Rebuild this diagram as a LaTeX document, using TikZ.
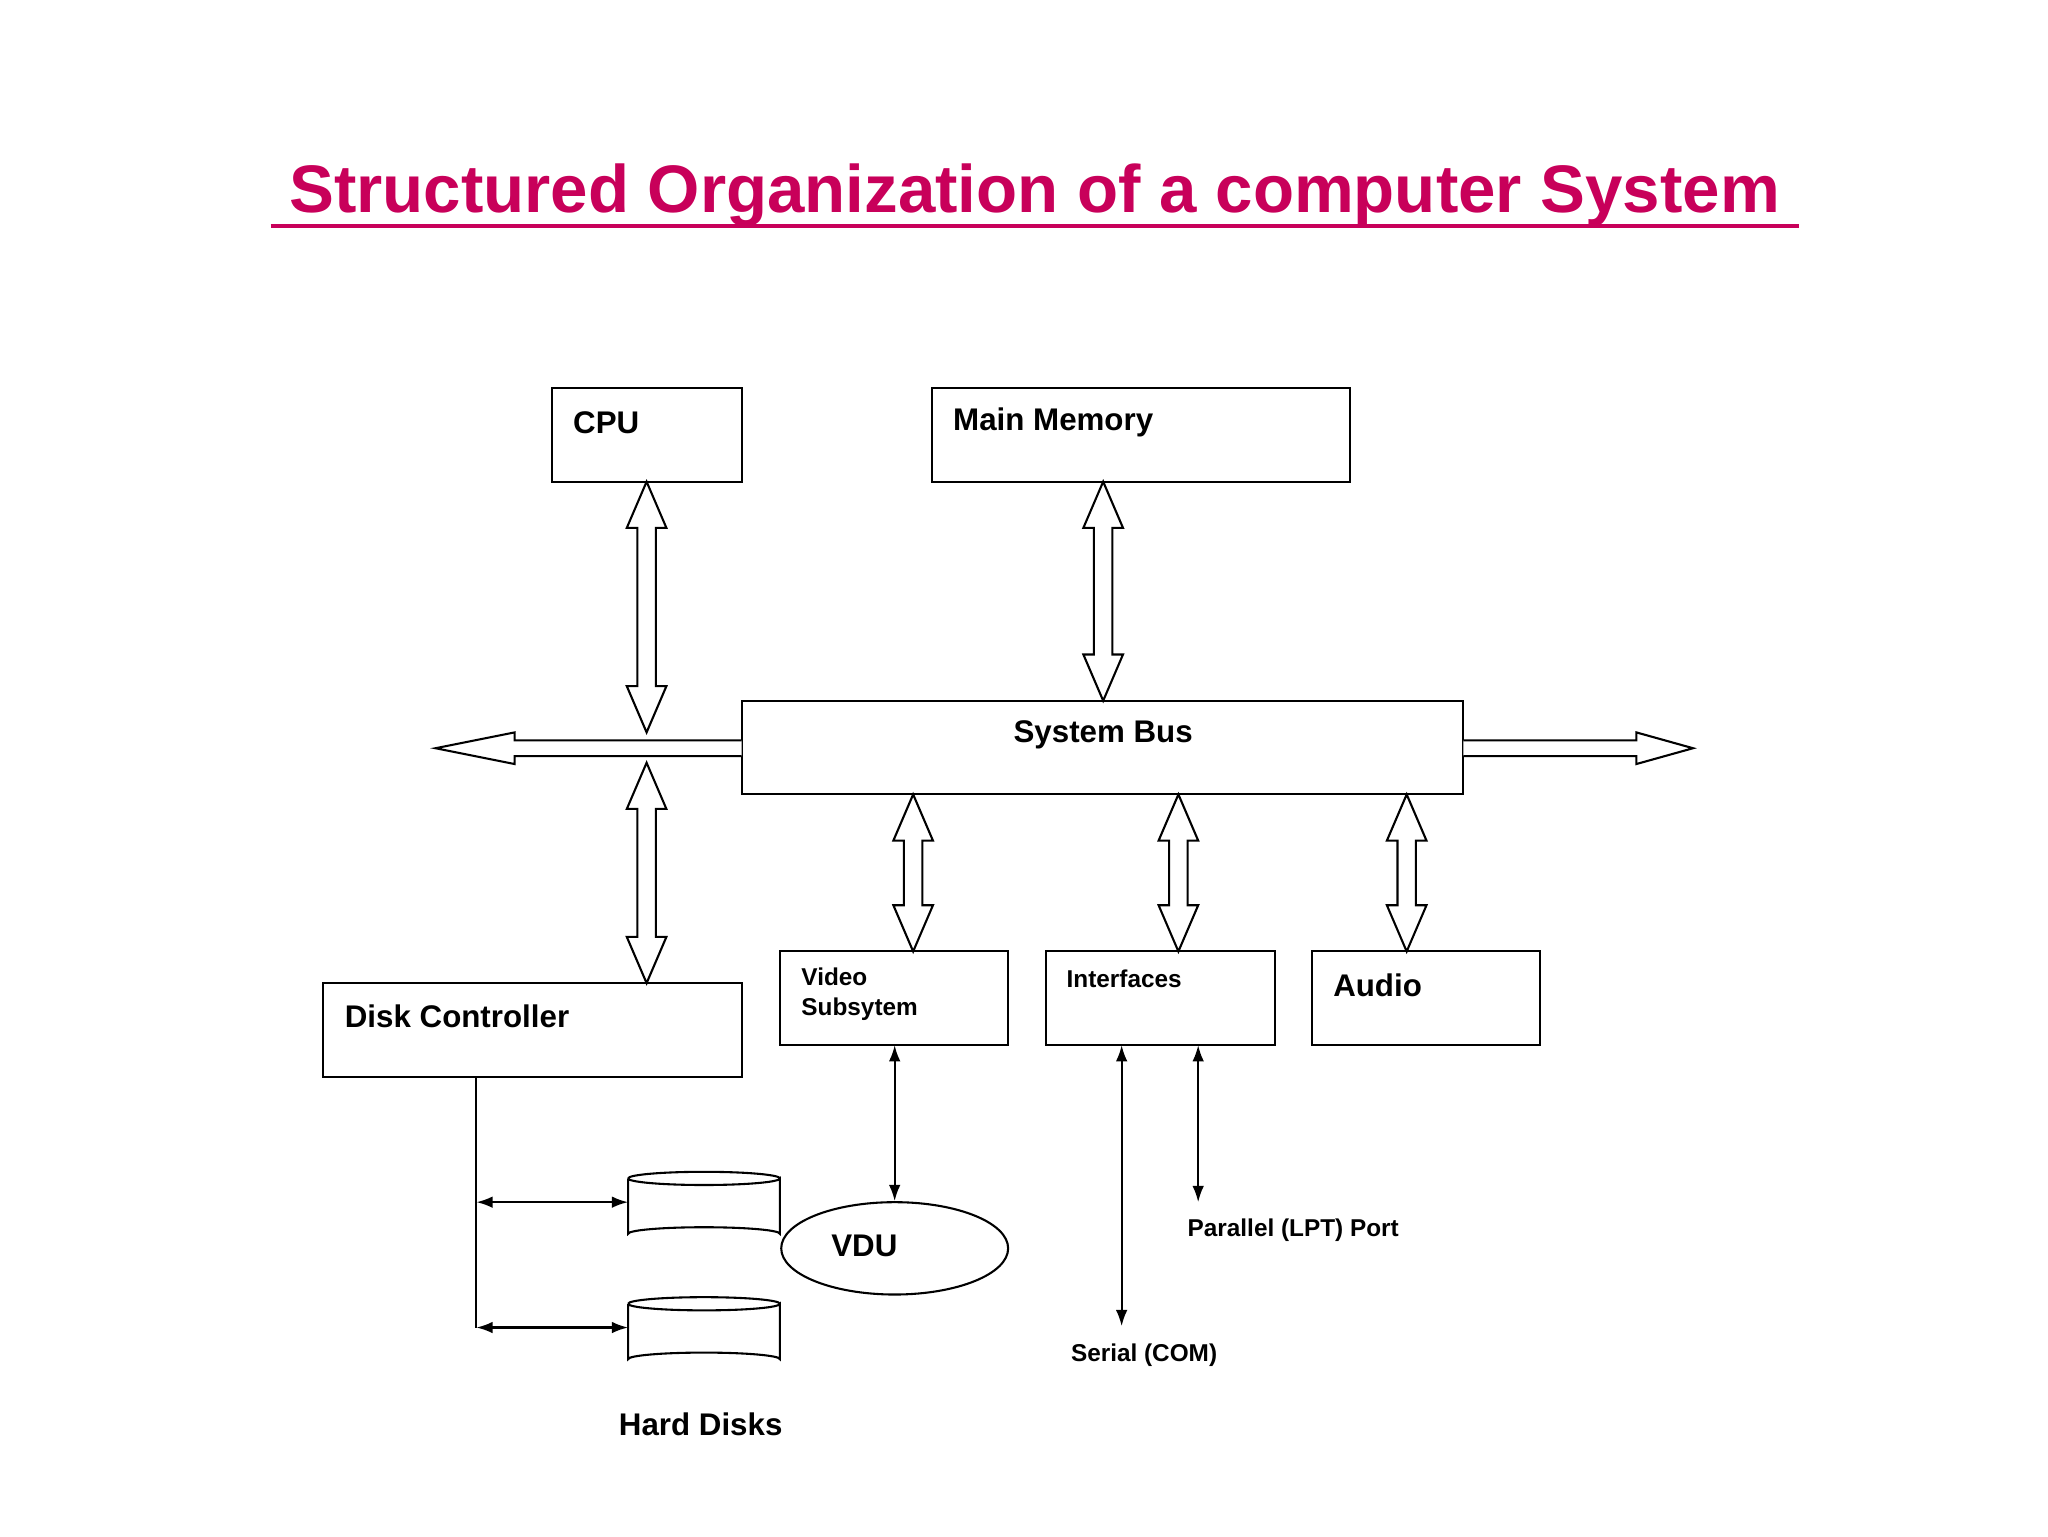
\documentclass[tikz,border=0pt]{standalone}
\usepackage{fontspec}
\setmainfont{Liberation Sans}
\usetikzlibrary{shapes.geometric}
\definecolor{ttl}{HTML}{C8005A}
\begin{document}
\begin{tikzpicture}[x=0.02cm,y=-0.02cm,
  box/.style={draw,line width=0.9pt,inner sep=0},
  lbl/.style={font=\fontsize{13.5}{16}\selectfont\bfseries,anchor=west,inner sep=0},
  sml/.style={font=\fontsize{10.5}{13}\selectfont\bfseries,anchor=west,inner sep=0,align=left},
  hollow/.style={draw,line width=0.9pt,fill=white},
  thin/.style={line width=0.9pt,{Latex[length=7pt,width=5pt]}-{Latex[length=7pt,width=5pt]}}]
\usetikzlibrary{arrows.meta}
\useasboundingbox (0,0) rectangle (1552,1164);
\newcommand\vdarr[3]{\draw[hollow] (#1,#2) -- (#1+15,#2+35) -- (#1+7,#2+35) -- (#1+7,#3-35) -- (#1+15,#3-35) -- (#1,#3) -- (#1-15,#3-35) -- (#1-7,#3-35) -- (#1-7,#2+35) -- (#1-15,#2+35) -- cycle;}
% title
\node[text=ttl,font=\fontsize{29}{34}\selectfont\bfseries] (title) at (784,148) {Structured Organization of a computer System};
\draw[ttl,line width=1.6pt] (205,171) -- (1363,171);
% boxes
\draw[box] (418,294) rectangle (562,365); \node[lbl] (cpu) at (434,320) {CPU};
\draw[box] (706,294) rectangle (1023,365); \node[lbl] (mem) at (722,320) {Main Memory};
\draw[box] (562,531) rectangle (1109,602); \node[lbl,anchor=center] (bus) at (836,557) {System Bus};
\draw[box] (245,745) rectangle (562,816); \node[lbl] (dc) at (261,770) {Disk Controller};
\draw[box] (591,721) rectangle (764,792); \node[sml,anchor=north west] (vid) at (607,733) {Video\\Subsytem};
\draw[box] (793,721) rectangle (966,792); \node[sml] (intf) at (808,742) {Interfaces};
\draw[box] (994,721) rectangle (1167,792); \node[lbl] (aud) at (1010,747) {Audio};
% hollow arrows
\vdarr{490}{365}{555}
\vdarr{836}{365}{531}
\vdarr{490}{578}{745}
\vdarr{692}{602}{721}
\vdarr{893}{602}{721}
\vdarr{1066}{602}{721}
\draw[hollow] (562,561) -- (390,561) -- (390,555) -- (330,567) -- (390,579) -- (390,573) -- (562,573);
\draw[hollow] (1109,561) -- (1240,561) -- (1240,555) -- (1283,567) -- (1240,579) -- (1240,573) -- (1109,573);
% VDU
\node[draw,ellipse,line width=0.9pt,minimum width=172\pgflinewidth,inner sep=0,minimum width=3.44cm,minimum height=1.4cm] (vdu) at (678,946) {};
\node[lbl,anchor=center] (vdut) at (655,944) {VDU};
\coordinate (vs) at (678,792);
\draw[thin] (vs) -- (vdu.north);
% interfaces
\coordinate (i1) at (850,792); \coordinate (i1e) at (850,1005);
\coordinate (i2) at (908,792); \coordinate (i2e) at (908,911);
\draw[thin] (i1) -- (i1e);
\draw[thin] (i2) -- (i2e);
\node[sml,anchor=center] (par) at (980,932) {Parallel (LPT) Port};
\node[sml,anchor=center] (ser) at (867,1027) {Serial (COM)};
% disks
\newcommand\cyl[1]{\draw[hollow] (476,#1) -- (476,#1+42) arc[start angle=180,end angle=360,x radius=57.5,y radius=5] -- (591,#1) arc[start angle=0,end angle=180,x radius=57.5,y radius=5];
\draw[line width=0.9pt] (476,#1) arc[start angle=180,end angle=360,x radius=57.5,y radius=5];}
\cyl{893}
\cyl{988}
\coordinate (d0) at (361,816); \coordinate (d1) at (361,911); \coordinate (d2) at (361,1006);
\coordinate (h1) at (476,911); \coordinate (h2) at (476,1006);
\draw[line width=0.9pt] (d0) -- (d2);
\draw[thin] (d1) -- (h1);
\draw[thin] (d2) -- (h2);
\node[lbl,anchor=center] (hd) at (531,1079) {Hard Disks};
\end{tikzpicture}
\end{document}
